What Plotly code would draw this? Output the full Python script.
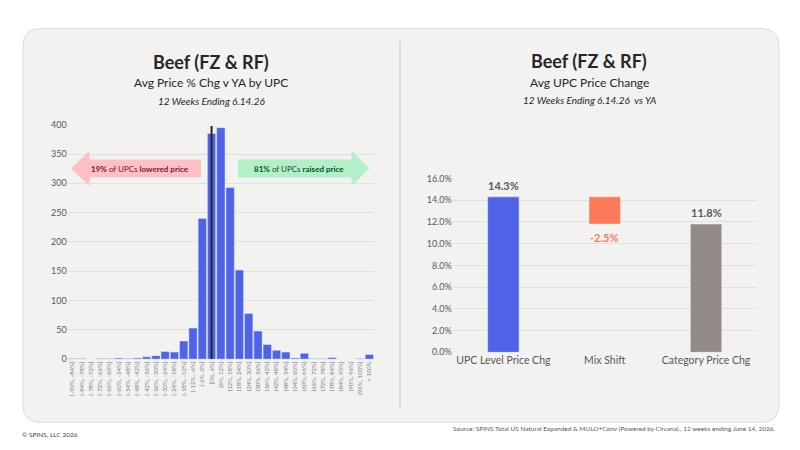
import plotly.graph_objects as go

W, H = 800, 450

# histogram of UPC price change buckets
buckets = ['[-90%, -84%]', '(-84%, -78%]', '(-78%, -72%]', '(-72%, -66%]', '(-66%, -60%]',
           '(-60%, -54%]', '(-54%, -48%]', '(-48%, -42%]', '(-42%, -36%]', '(-36%, -30%]',
           '(-30%, -24%]', '(-24%, -18%]', '(-18%, -12%]', '(-12%, -6%]', '(-6%, 0%]',
           '[0%, 6%]', '(6%, 12%]', '(12%, 18%]', '(18%, 24%]', '(24%, 30%]',
           '(30%, 36%]', '(36%, 42%]', '(42%, 48%]', '(48%, 54%]', '(54%, 60%]',
           '(60%, 66%]', '(66%, 72%]', '(72%, 78%]', '(78%, 84%]', '(84%, 90%]',
           '(90%, 96%]', '(96%, 100%]', '> 100%']
upc_counts = [1, 1, 0, 1, 1, 2, 1, 2, 4, 6, 13, 12, 31, 53, 240,
              385, 395, 293, 152, 78, 48, 25, 15, 12, 2, 10, 1, 1, 3, 0,
              0, 1, 8]
zero_bucket = '[0%, 6%]'
zero_line_top = 398

# waterfall of price change
steps = ['UPC Level Price Chg', 'Mix Shift', 'Category Price Chg']
step_values = [0.143, -0.025, 0.118]
step_labels = ['14.3%', '-2.5%', '11.8%']

FONT = 'Lato'
GREY = '#595959'


def px(x):
    return x / W


def py(y):
    return 1 - y / H


fig = go.Figure()

fig.add_trace(go.Bar(x=buckets, y=upc_counts, marker_color='#4f63e8',
                     xaxis='x', yaxis='y', hoverinfo='x+y'))

bases = [0, step_values[0] + step_values[1], 0]
heights = [step_values[0], -step_values[1], step_values[2]]
fig.add_trace(go.Bar(x=steps, y=heights, base=bases,
                     marker_color=['#4f63e8', '#fc7a57', '#948a87'],
                     width=0.31, xaxis='x2', yaxis='y2', hoverinfo='x'))

# value labels for the waterfall
tops = [step_values[0], bases[1], step_values[2]]
for i, (s, lab) in enumerate(zip(steps, step_labels)):
    neg = step_values[i] < 0
    fig.add_annotation(x=s, y=tops[i], xref='x2', yref='y2', text='<b>%s</b>' % lab,
                       showarrow=False, yanchor='top' if neg else 'bottom',
                       yshift=-5 if neg else 3,
                       font=dict(size=11, color='#fc7a57' if neg else GREY))

shapes = []
# card background
x0, y0, x1, y1, r = 23, 23, 779, 427, 18
card = ('M %f,%f L %f,%f Q %f,%f %f,%f L %f,%f Q %f,%f %f,%f L %f,%f Q %f,%f %f,%f '
        'L %f,%f Q %f,%f %f,%f Z') % (
    px(x0 + r), py(y0), px(x1 - r), py(y0), px(x1), py(y0), px(x1), py(y0 + r),
    px(x1), py(y1 - r), px(x1), py(y1), px(x1 - r), py(y1),
    px(x0 + r), py(y1), px(x0), py(y1), px(x0), py(y1 - r),
    px(x0), py(y0 + r), px(x0), py(y0), px(x0 + r), py(y0))
shapes.append(dict(type='path', path=card, xref='paper', yref='paper',
                   fillcolor='#f2f2f1', line=dict(color='#dcdcdc', width=1), layer='below'))
# divider
shapes.append(dict(type='line', xref='paper', yref='paper', x0=px(400), x1=px(400),
                   y0=py(36), y1=py(413), line=dict(color='#dddddd', width=2), layer='below'))


def arrow(tail, tip, head_x, yc, body_h=18.5, head_h=36):
    pts = [(tail, yc - body_h / 2), (head_x, yc - body_h / 2), (head_x, yc - head_h / 2),
           (tip, yc), (head_x, yc + head_h / 2), (head_x, yc + body_h / 2),
           (tail, yc + body_h / 2)]
    return 'M ' + ' L '.join('%f,%f' % (px(a), py(b)) for a, b in pts) + ' Z'


shapes.append(dict(type='path', path=arrow(201, 71, 89.5, 166.5), xref='paper', yref='paper',
                   fillcolor='#ffc0c5', line=dict(width=0)))
shapes.append(dict(type='path', path=arrow(238, 369.5, 351.5, 166.5), xref='paper', yref='paper',
                   fillcolor='#b2f0c8', line=dict(width=0)))
# marker at zero change
shapes.append(dict(type='line', xref='x', yref='y', x0=zero_bucket, x1=zero_bucket,
                   y0=0, y1=zero_line_top, line=dict(color='#262626', width=2)))

anns = [
    dict(x=px(211), y=py(57), text='<b>Beef (FZ & RF)</b>', font=dict(size=18, color='#262626')),
    dict(x=px(211), y=py(78), text='Avg Price % Chg v YA by UPC', font=dict(size=12, color='#262626')),
    dict(x=px(211), y=py(97), text='<i>12 Weeks Ending 6.14.26</i>', font=dict(size=10, color='#262626')),
    dict(x=px(589), y=py(56), text='<b>Beef (FZ & RF)</b>', font=dict(size=18, color='#262626')),
    dict(x=px(589), y=py(78), text='Avg UPC Price Change', font=dict(size=12, color='#262626')),
    dict(x=px(589), y=py(96), text='<i>12 Weeks Ending 6.14.26  vs YA</i>', font=dict(size=10, color='#262626')),
    dict(x=px(140), y=py(167), text='<b>19%</b> of UPCs <b>lowered price</b>',
         font=dict(size=8, color='#7a1530')),
    dict(x=px(299), y=py(167), text='<b>81%</b> of UPCs <b>raised price</b>',
         font=dict(size=8, color='#0e4d2a')),
    dict(x=px(20), y=py(439), text='© SPINS, LLC 2026', xanchor='left',
         font=dict(size=6.5, color='#404040')),
    dict(x=px(777), y=py(433), text='Source: SPINS Total US Natural Expanded & MULO+Conv '
         '(Powered by Circana)., 12 weeks ending June 14, 2026.', xanchor='right',
         font=dict(size=6.5, color=GREY)),
]
for a in anns:
    a.update(xref='paper', yref='paper', showarrow=False)
    a.setdefault('xanchor', 'center')
    a['yanchor'] = 'middle'
    fig.add_annotation(**a)

fig.update_layout(
    width=W, height=H, margin=dict(l=0, r=0, t=0, b=0),
    paper_bgcolor='white', plot_bgcolor='rgba(0,0,0,0)',
    font=dict(family=FONT, color=GREY), showlegend=False,
    bargap=0.1, shapes=shapes,
    xaxis=dict(domain=[px(67.7), px(374)], type='category', tickangle=-90,
               tickfont=dict(size=6, color='#7f7f7f'), showgrid=False, ticks='',
               showline=False, fixedrange=True),
    yaxis=dict(domain=[py(362), py(121.7)], range=[0, 400], dtick=50,
               gridcolor='#e0e0e0', gridwidth=1, zeroline=False,
               tickfont=dict(size=9, color=GREY), ticks='', fixedrange=True),
    xaxis2=dict(domain=[px(452.7), px(756.7)], type='category', anchor='y2',
                tickfont=dict(size=10.5, color=GREY), showgrid=False, ticks='',
                showline=False, fixedrange=True),
    yaxis2=dict(domain=[py(355), py(176.7)], range=[0, 0.16], dtick=0.02,
                tickformat='.1%', anchor='x2', gridcolor='#e0e0e0', zeroline=False,
                tickfont=dict(size=9, color=GREY), ticks='', fixedrange=True),
)

# pin the figure to the window's top-left corner, no page margin or scrollbars
page_css = ("document.body.style.margin='0';"
            "document.body.style.overflow='hidden';"
            "document.documentElement.style.overflow='hidden';")
fig.write_html('out.html', config={'displayModeBar': False}, post_script=page_css)
